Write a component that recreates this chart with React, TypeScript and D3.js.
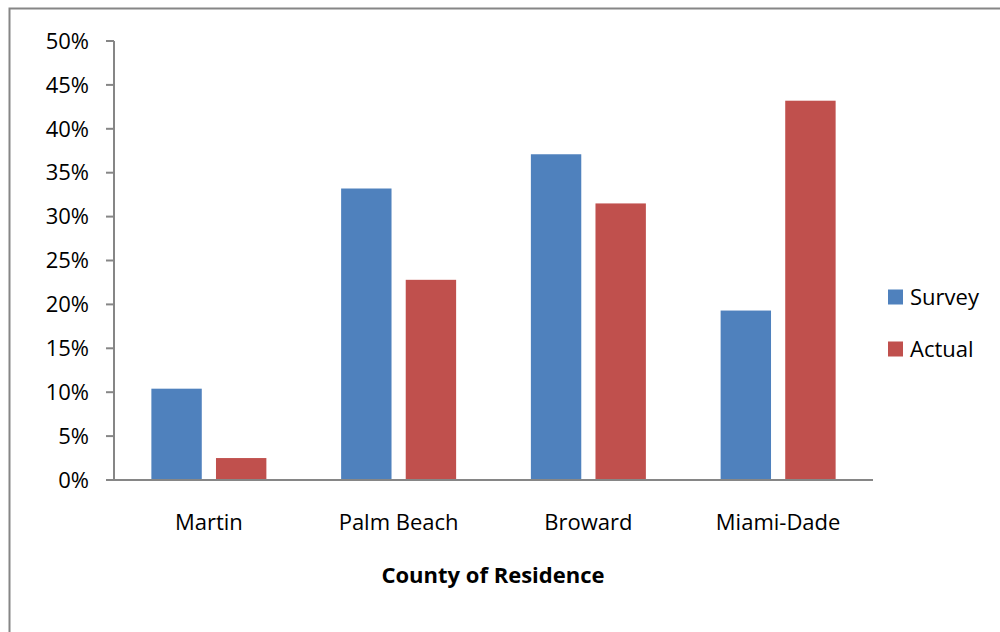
import { useEffect, useRef } from "react";
import * as d3 from "d3";

const categories = ["Martin", "Palm Beach", "Broward", "Miami-Dade"];
const seriesNames = ["Survey", "Actual"];
const surveyValues = [10.4, 33.2, 37.1, 19.3];
const actualValues = [2.5, 22.8, 31.5, 43.2];
const yTicks = [0, 5, 10, 15, 20, 25, 30, 35, 40, 45, 50];
const colors = ["#4F81BD", "#C0504D"];

const W = 1000;
const H = 632;
const FONT = "'Open Sans', Lato, sans-serif";
const FS = "22px";

const App = () => {
  const ref = useRef<SVGSVGElement>(null);

  useEffect(() => {
    if (!ref.current) return;
    const svg = d3.select(ref.current);
    svg.selectAll("*").remove();

    // outer frame (extends past right/bottom edges)
    svg
      .append("rect")
      .attr("x", 9.5)
      .attr("y", 8.5)
      .attr("width", W + 20)
      .attr("height", H + 20)
      .attr("fill", "white")
      .attr("stroke", "#868686")
      .attr("stroke-width", 2);

    const left = 114;
    const right = 873;
    const top = 41;
    const bottom = 480;

    const x = d3.scaleBand<string>().domain(categories).range([left, right]);
    const inner = d3
      .scaleBand<string>()
      .domain(seriesNames)
      .range([0, 115])
      .paddingInner(0.22);
    const y = d3.scaleLinear().domain([0, 50]).range([bottom, top]);

    const series = [surveyValues, actualValues];

    // bars
    series.forEach((vals, si) => {
      svg
        .append("g")
        .selectAll("rect")
        .data(vals)
        .enter()
        .append("rect")
        .attr("x", (_, i) => x(categories[i])! + (x.bandwidth() - 115) / 2 + inner(seriesNames[si])!)
        .attr("y", (d) => y(d))
        .attr("width", inner.bandwidth())
        .attr("height", (d) => bottom - y(d))
        .attr("fill", colors[si]);
    });

    // y axis
    const axisColor = "#868686";
    svg
      .append("line")
      .attr("x1", left)
      .attr("x2", left)
      .attr("y1", top)
      .attr("y2", bottom)
      .attr("stroke", axisColor)
      .attr("stroke-width", 2);
    const yt = svg.append("g");
    yt.selectAll("line")
      .data(yTicks)
      .enter()
      .append("line")
      .attr("x1", left - 8)
      .attr("x2", left)
      .attr("y1", (d) => y(d))
      .attr("y2", (d) => y(d))
      .attr("stroke", axisColor)
      .attr("stroke-width", 2);
    yt.selectAll("text")
      .data(yTicks)
      .enter()
      .append("text")
      .attr("x", 89)
      .attr("y", (d) => y(d))
      .attr("dy", "0.35em")
      .attr("text-anchor", "end")
      .style("font-family", FONT)
      .style("font-size", FS)
      .attr("fill", "#000")
      .text((d) => `${d}%`);

    // x axis
    svg
      .append("line")
      .attr("x1", left - 8)
      .attr("x2", right)
      .attr("y1", bottom)
      .attr("y2", bottom)
      .attr("stroke", axisColor)
      .attr("stroke-width", 2);
    svg
      .append("g")
      .selectAll("text")
      .data(categories)
      .enter()
      .append("text")
      .attr("x", (d) => x(d)! + x.bandwidth() / 2)
      .attr("y", 522)
      .attr("dy", "0.35em")
      .attr("text-anchor", "middle")
      .style("font-family", FONT)
      .style("font-size", FS)
      .text((d) => d);

    svg
      .append("text")
      .attr("x", 493)
      .attr("y", 575)
      .attr("dy", "0.35em")
      .attr("text-anchor", "middle")
      .style("font-family", FONT)
      .style("font-size", FS)
      .style("font-weight", "bold")
      .text("County of Residence");

    // legend
    const legend = svg
      .append("g")
      .selectAll("g")
      .data(seriesNames)
      .enter()
      .append("g")
      .attr("transform", (_, i) => `translate(888, ${297 + i * 52})`);
    legend
      .append("rect")
      .attr("x", 0)
      .attr("y", -7.5)
      .attr("width", 15)
      .attr("height", 15)
      .attr("fill", (_, i) => colors[i]);
    legend
      .append("text")
      .attr("x", 22)
      .attr("y", 0)
      .attr("dy", "0.35em")
      .style("font-family", FONT)
      .style("font-size", FS)
      .text((d) => d);
  }, []);

  return (
    <svg
      ref={ref}
      width={W}
      height={H}
      style={{ position: "absolute", left: 0, top: 0, display: "block" }}
    />
  );
};

export default App;
